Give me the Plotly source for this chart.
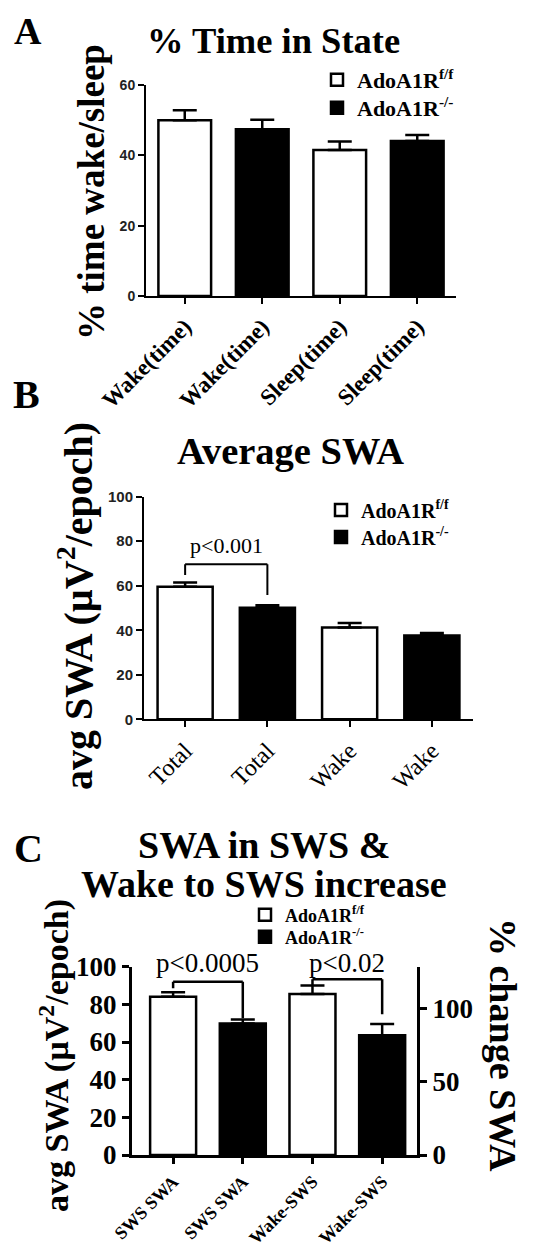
import plotly.graph_objects as go

SERIF = "Liberation Serif, Times New Roman, serif"
SANS = "Liberation Sans, Arial, sans-serif"
W, H = 534, 1249
OFF = 8                      # page body margin in the browser
FW, FH = W - OFF, H - OFF    # figure size

def fx(p):
    return (p - OFF) / FW

def fy(p):
    return 1 - (p - OFF) / FH

# ---------------- data ----------------
series_names = ["AdoA1R<sup>f/f</sup>", "AdoA1R<sup>-/-</sup>"]
genotype = [0, 1, 0, 1]          # index into series_names (white / black)
fills = ["white", "black"]

cats_A = ["Wake(time)", "Wake(time)", "Sleep(time)", "Sleep(time)"]
mean_A = [50.0, 47.4, 41.5, 44.1]
sem_A = [2.8, 2.7, 2.4, 1.7]

cats_B = ["Total", "Total", "Wake", "Wake"]
mean_B = [59.6, 50.1, 41.2, 37.6]
sem_B = [1.9, 1.1, 2.1, 1.2]

cats_C = ["SWS SWA", "SWS SWA", "Wake-SWS", "Wake-SWS"]
mean_C = [84.1, 69.9, 109.8, 81.6]   # first pair: avg SWA (left axis); second pair: % change (right axis)
sem_C = [2.3, 2.1, 5.7, 7.7]
axis_C = ["y5", "y5", "y6", "y6"]

range_B = [0, 100]
range_C_left = [0, 100]
range_C_right = [0, 128.4]

# significance brackets: (bar i, bar j, top, left leg end, right leg end, label, label y, axis, axis max)
brackets_B = [(0, 1, 69.6, 64.8, 55.8, "p<0.001", 78.0, "y2", range_B[1])]
brackets_C = [(0, 1, 92.0, 88.5, 72.6, "p<0.0005", 102.0, "y5", range_C_left[1]),
              (2, 3, 119.8, 115.5, 95.9, "p<0.02", 131.0, "y6", range_C_right[1])]

fig = go.Figure()

def add_bars(cats, means, sems, xaxis, yaxes, legends, width, lw):
    shown = set()
    for g in (0, 1):
        for ax in sorted(set(yaxes)):
            idx = [i for i in range(len(cats)) if genotype[i] == g and yaxes[i] == ax]
            if not idx:
                continue
            fig.add_trace(go.Bar(
                x=idx, y=[means[i] for i in idx],
                width=width,
                marker=dict(color=fills[g], line=dict(color="black", width=lw)),
                error_y=dict(type="data", symmetric=False,
                             array=[sems[i] for i in idx],
                             arrayminus=[0] * len(idx),
                             color="black", thickness=lw, width=12),
                name=series_names[g],
                showlegend=g not in shown,
                legend=legends[g],
                xaxis=xaxis, yaxis=ax,
            ))
            shown.add(g)

add_bars(cats_A, mean_A, sem_A, "x", ["y"] * 4, ["legend", "legend2"], 0.68, 2.5)
add_bars(cats_B, mean_B, sem_B, "x2", ["y2"] * 4, ["legend3", "legend4"], 0.67, 2.5)
add_bars(cats_C, mean_C, sem_C, "x3", axis_C, ["legend5", "legend6"], 0.66, 2.5)

shapes = []
annotations = []

def add_brackets(brs, xref, lw, fsize):
    for (i, j, top, le, re_, txt, ty, yref, ymax) in brs:
        for (x0, y0, x1, y1) in [(i, le, i, top), (i, top, j, top), (j, top, j, re_)]:
            shapes.append(dict(type="line", xref=xref, yref=yref, x0=x0, y0=y0, x1=x1, y1=y1,
                               line=dict(color="black", width=lw)))
        annotations.append(dict(text=txt, xref=xref, yref=yref + " domain", x=(i + j) / 2,
                                y=ty / ymax, showarrow=False, xanchor="center", yanchor="middle",
                                font=dict(family=SERIF, size=fsize, color="black")))

add_brackets(brackets_B, "x2", 2, 22)
add_brackets(brackets_C, "x3", 2.5, 27)

def ann(text, x, y, size, angle=0, bold=True):
    annotations.append(dict(text=text, xref="paper", yref="paper", x=fx(x), y=fy(y),
                            showarrow=False, textangle=angle, xanchor="center", yanchor="middle",
                            font=dict(family=SERIF, size=size, color="black",
                                      weight="bold" if bold else "normal")))

# panel letters
ann("A", 28, 31, 38)
ann("B", 27, 394, 40)
ann("C", 28, 848, 40)
# titles
ann("% Time in State", 273, 41, 36.5)
ann("Average SWA", 290, 451, 38.5)
ann("SWA in SWS &", 264, 845, 38)
ann("Wake to SWS increase", 264, 884, 38)
# axis titles
ann("% time wake/sleep", 91, 192, 37, -90)
ann("avg SWA (µV<sup>2</sup>/epoch)", 76, 606, 40, -90)
ann("avg SWA (µV<sup>2</sup>/epoch)", 54, 1056, 34, -90)
ann("% change SWA", 503, 1045, 38, 90)

def xax(domain, rng, cats, font, lw=2):
    return dict(domain=domain, range=rng, tickmode="array", tickvals=list(range(len(cats))),
                ticktext=cats, tickangle=-45, showline=True, linecolor="black", linewidth=lw,
                ticks="outside", ticklen=6, tickwidth=lw, tickcolor="black", showgrid=False,
                zeroline=False, tickfont=font, fixedrange=True, automargin=False)

def yax(domain, rng, dtick, anchor, font, lw=2, ticklen=6):
    return dict(domain=domain, range=rng, dtick=dtick, anchor=anchor, showline=True,
                linecolor="black", linewidth=lw, ticks="outside", ticklen=ticklen, tickwidth=lw,
                tickcolor="black", showgrid=False, zeroline=False, tickfont=font, fixedrange=True,
                automargin=False)

fA_x = dict(family=SERIF, size=23, color="black", weight="bold")
fB_x = dict(family=SERIF, size=24, color="black")
fC_x = dict(family=SERIF, size=18, color="black", weight="bold")
fA_y = dict(family=SANS, size=14, color="#222", weight="bold")
fB_y = dict(family=SANS, size=15, color="#222", weight="bold")
fC_y = dict(family=SERIF, size=27, color="black", weight="bold")

legend_font_A = dict(family=SERIF, size=22, color="black", weight="bold")
legend_font_B = dict(family=SERIF, size=20, color="black", weight="bold")
legend_font_C = dict(family=SERIF, size=18, color="black", weight="bold")

def leg(x, y, font):
    return dict(x=fx(x), y=fy(y), xanchor="left", yanchor="middle", font=font,
                bgcolor="rgba(0,0,0,0)", borderwidth=0, tracegroupgap=0,
                itemclick=False, itemdoubleclick=False)

fig.update_layout(
    template="none",
    width=FW, height=FH, margin=dict(l=0, r=0, t=0, b=0, autoexpand=False),
    paper_bgcolor="white", plot_bgcolor="white",
    barmode="overlay",
    xaxis=xax([fx(146), fx(456)], [-0.5, 3.5], cats_A, fA_x) | dict(anchor="y"),
    yaxis=yax([fy(296), fy(85)], [0, 60], 20, "x", fA_y),
    xaxis2=xax([fx(144), fx(473)], [-0.5, 3.5], cats_B, fB_x) | dict(anchor="y2"),
    yaxis2=yax([fy(719.3), fy(496.7)], range_B, 20, "x2", fB_y),
    xaxis3=xax([fx(132), fx(417)], [-0.59, 3.5], cats_C, fC_x, lw=3) | dict(anchor="y5"),
    yaxis5=yax([fy(1155), fy(966.7)], range_C_left, 20, "x3", fC_y, lw=3, ticklen=7),
    yaxis6=yax([fy(1155), fy(966.7)], range_C_right, 50, "x3", fC_y, lw=3, ticklen=7)
           | dict(overlaying="y5", side="right"),
    legend=leg(317, 80, legend_font_A),
    legend2=leg(317, 108, legend_font_A),
    legend3=leg(321, 510, legend_font_B),
    legend4=leg(321, 537, legend_font_B),
    legend5=leg(245, 915, legend_font_C),
    legend6=leg(245, 937, legend_font_C),
    shapes=shapes,
    annotations=annotations,
)

fig.write_html("out.html")
